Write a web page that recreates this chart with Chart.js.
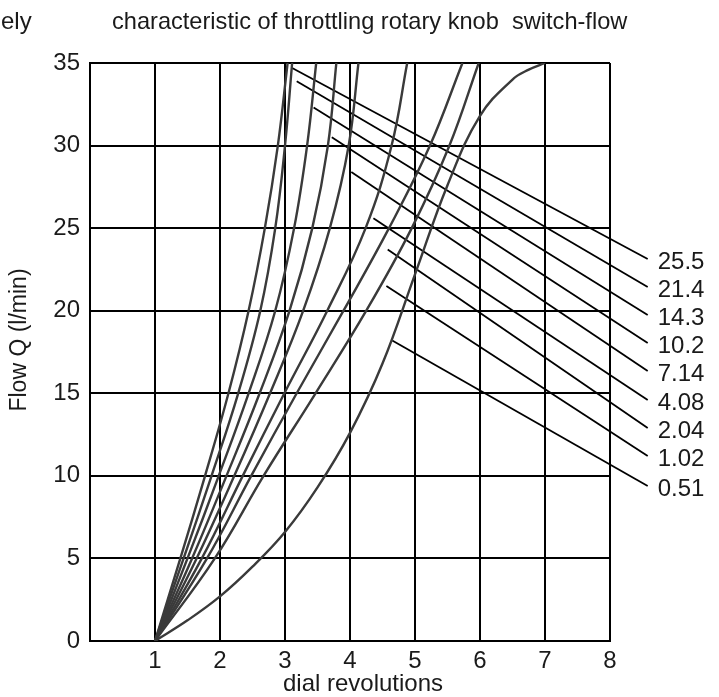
<!DOCTYPE html>
<html>
<head>
<meta charset="utf-8">
<script src="https://cdn.jsdelivr.net/npm/chart.js@4.4.1/dist/chart.umd.min.js"></script>
<style>
    html, body { margin: 0; padding: 0; background: #fff; }
    #flowChart { display: block; }
</style>
</head>
<body>
<canvas id="flowChart" width="719" height="697"></canvas>
<script>
// values (dial revolutions vs flow l/min)

const xTicks = [1, 2, 3, 4, 5, 6, 7, 8];
const yTicks = [0, 5, 10, 15, 20, 25, 30, 35];

const curveLabels = ["25.5", "21.4", "14.3", "10.2", "7.14", "4.08", "2.04", "1.02", "0.51"];

// the eight steep curves share these flow levels
const flowLevels = [0, 5, 10, 15, 20, 25, 30, 35];
const revs25_5 = [1, 1.39, 1.77, 2.13, 2.44, 2.69, 2.89, 3.04];
const revs21_4 = [1, 1.44, 1.87, 2.28, 2.62, 2.85, 3.00, 3.11];
const revs14_3 = [1, 1.50, 1.98, 2.44, 2.85, 3.14, 3.34, 3.48];
const revs10_2 = [1, 1.57, 2.10, 2.61, 3.07, 3.42, 3.66, 3.79];
const revs7_14 = [1, 1.64, 2.22, 2.77, 3.28, 3.69, 3.98, 4.13];
const revs4_08 = [1, 1.72, 2.35, 2.99, 3.65, 4.24, 4.64, 4.88];
const revs2_04 = [1, 1.80, 2.48, 3.18, 3.90, 4.60, 5.23, 5.73];
const revs1_02 = [1, 1.92, 2.67, 3.47, 4.25, 4.95, 5.53, 5.98];

// the flattest curve bends over near the top
const revs0_51 = [1, 1.5, 2, 2.5, 3, 3.5, 4, 4.5, 5, 5.5, 6, 6.5, 6.75, 7];
const flow0_51 = [0, 1.25, 2.7, 4.5, 6.6, 9.3, 12.6, 16.8, 22.2, 27.6, 31.8, 34.0, 34.6, 35];

// leader lines from each curve to its label
const leaderFromRev = [3.11, 3.18, 3.44, 3.72, 4.02, 4.36, 4.58, 4.56, 4.65];
const leaderFromFlow = [34.7, 33.9, 32.3, 30.5, 28.4, 25.6, 23.7, 21.5, 18.2];
const leaderToRev = [8.58, 8.58, 8.58, 8.58, 8.58, 8.58, 8.58, 8.58, 8.58];
const leaderToFlow = [23.13, 21.44, 19.74, 18.05, 16.35, 14.59, 12.9, 11.2, 9.39];

const FONT = "'Liberation Sans', Arial, sans-serif";
const TEXT_COLOR = "#1a1a1a";

function toPoints(xs, ys) {
    return xs.map((x, i) => ({ x: x, y: ys[i] }));
}

function curveDataset(label, points) {
    return {
        label: label,
        data: points,
        showLine: true,
        borderColor: "#3a3a3a",
        borderWidth: 2.4,
        pointRadius: 0,
        tension: 0.4,
    };
}

const curveRevs = [revs25_5, revs21_4, revs14_3, revs10_2, revs7_14, revs4_08, revs2_04, revs1_02];

const datasets = [];

curveRevs.forEach((revs, i) => {
    datasets.push(curveDataset(curveLabels[i], toPoints(revs, flowLevels)));
});
datasets.push(curveDataset(curveLabels[8], toPoints(revs0_51, flow0_51)));

curveLabels.forEach((lab, i) => {
    datasets.push({
        label: "leader " + lab,
        leaderText: lab,
        data: [
            { x: leaderFromRev[i], y: leaderFromFlow[i] },
            { x: leaderToRev[i], y: leaderToFlow[i] },
        ],
        showLine: true,
        borderColor: "#000",
        borderWidth: 1.8,
        pointRadius: 0,
        tension: 0,
        clip: false,
    });
});

// title, axis titles and the curve labels at the leader ends
const textPlugin = {
    id: "textPlugin",
    afterDraw(chart) {
        const ctx = chart.ctx;
        ctx.save();
        ctx.fillStyle = TEXT_COLOR;

        ctx.font = "24px " + FONT;
        ctx.textAlign = "left";
        ctx.textBaseline = "alphabetic";
        ctx.fillText("ely", 1, 29);
        ctx.font = "23.6px " + FONT;
        ctx.fillText("characteristic of throttling rotary knob  switch-flow", 112, 29);

        ctx.font = "24px " + FONT;
        ctx.textAlign = "center";
        ctx.textBaseline = "middle";
        ctx.fillText("dial revolutions", 363, 684);

        ctx.save();
        ctx.translate(20, 340);
        ctx.rotate(-Math.PI / 2);
        ctx.font = "23px " + FONT;
        ctx.fillText("Flow Q (l/min)", 0, 0);
        ctx.restore();

        ctx.font = "24px " + FONT;
        ctx.textAlign = "left";
        chart.data.datasets.forEach((ds, i) => {
            if (!ds.leaderText) {
                return;
            }
            const end = chart.getDatasetMeta(i).data[1];
            ctx.fillText(ds.leaderText, end.x + 10, end.y + 3);
        });
        ctx.restore();
    },
};

const tickFont = { size: 24, family: FONT };

new Chart(document.getElementById("flowChart").getContext("2d"), {
    type: "scatter",
    data: { datasets: datasets },
    options: {
        responsive: false,
        animation: false,
        events: [],
        layout: {
            padding: { top: 63, right: 109, bottom: 0, left: 0 },
        },
        plugins: {
            legend: { display: false },
            tooltip: { enabled: false },
        },
        scales: {
            x: {
                type: "linear",
                min: 0,
                max: 8,
                afterBuildTicks: (scale) => {
                    scale.ticks = [0].concat(xTicks).map((v) => ({ value: v }));
                },
                ticks: {
                    color: TEXT_COLOR,
                    font: tickFont,
                    padding: 6,
                    maxRotation: 0,
                    autoSkip: false,
                    callback: (v) => (v === 0 ? "" : String(v)),
                },
                grid: { color: "#000", lineWidth: 2, drawTicks: false },
                border: { color: "#000", width: 2 },
                afterFit: (scale) => {
                    scale.height = 56;
                },
            },
            y: {
                min: 0,
                max: 35,
                afterBuildTicks: (scale) => {
                    scale.ticks = yTicks.map((v) => ({ value: v }));
                },
                ticks: {
                    color: TEXT_COLOR,
                    font: tickFont,
                    padding: 10,
                    autoSkip: false,
                },
                grid: { color: "#000", lineWidth: 2, drawTicks: false },
                border: { color: "#000", width: 2 },
                afterFit: (scale) => {
                    scale.width = 90;
                },
            },
        },
    },
    plugins: [textPlugin],
});
</script>
</body>
</html>
